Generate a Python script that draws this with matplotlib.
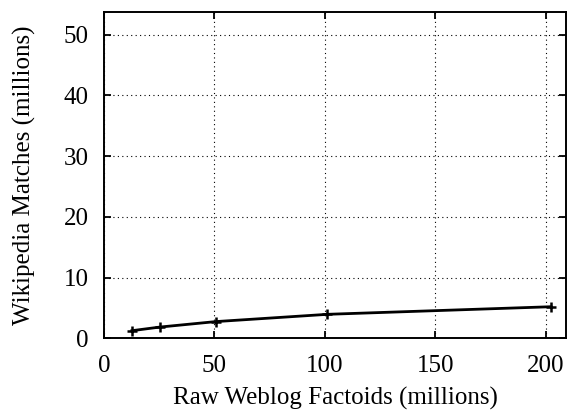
import matplotlib
matplotlib.use("Agg")
import matplotlib.pyplot as plt

plt.rcParams['font.family'] = ['Liberation Serif', 'DejaVu Serif']

# raw weblog factoids (millions) vs wikipedia matches (millions)
factoids = [12.6, 25.3, 50.6, 101.2, 202.4]
matches = [1.25, 1.85, 2.75, 3.95, 5.2]
xticks = [0, 50, 100, 150, 200]
yticks = [0, 10, 20, 30, 40, 50]

fig = plt.figure(figsize=(5.68, 4.11), dpi=100)
ax = fig.add_axes([0.1831, 0.1769, 0.8134, 0.7939])

ax.plot(factoids, matches, color='black', lw=2.0, marker='+', ms=7, mew=1.8)

ax.set_xlim(0, 209.2)
ax.set_ylim(0, 53.75)
ax.set_xticks(xticks)
ax.set_yticks(yticks)
ax.grid(True, color='black', linestyle=(0, (1, 3)), linewidth=0.8)
ax.tick_params(direction='in', top=True, right=True, length=5, width=1.3, labelsize=18)
ax.tick_params(axis='x', pad=12)
ax.tick_params(axis='y', pad=11)
for s in ax.spines.values():
    s.set_linewidth(1.4)

ax.set_xlabel("Raw Weblog Factoids (millions)", fontsize=18, labelpad=7)
ax.set_ylabel("Wikipedia Matches (millions)", fontsize=18, labelpad=20)

fig.savefig("out.png", dpi=100)
